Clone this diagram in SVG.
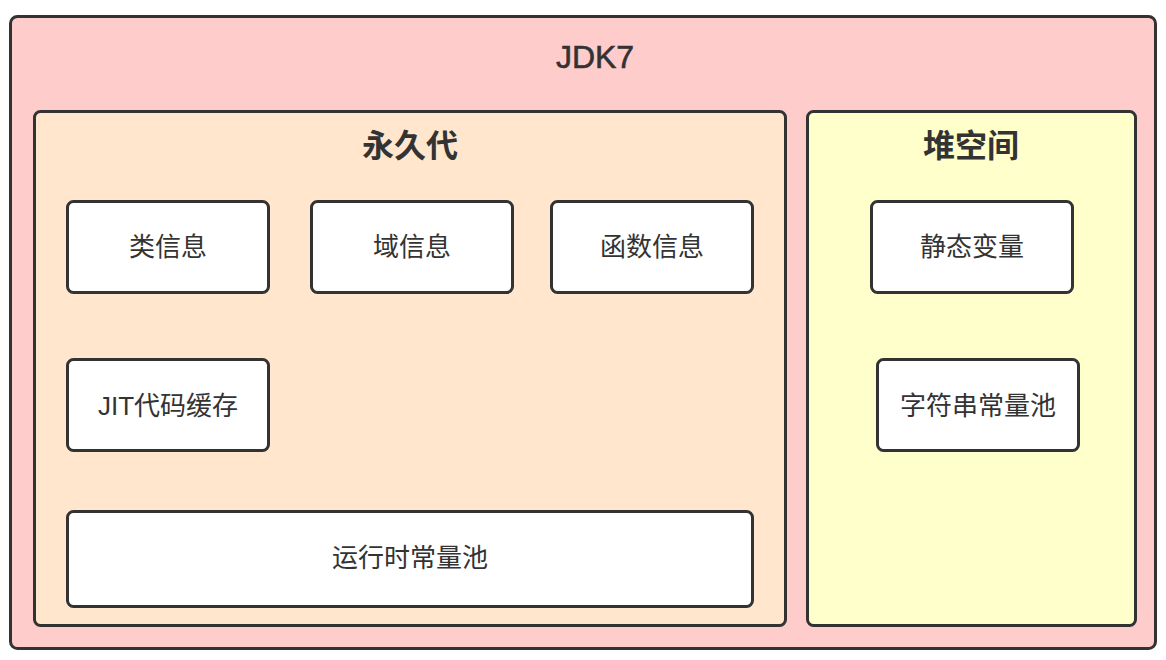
<svg xmlns="http://www.w3.org/2000/svg" width="1166" height="660" viewBox="0 0 1166 660">
<style>
.box{stroke:#333333;stroke-width:3}
.node{fill:#ffffff;stroke:#333333;stroke-width:3}
.t{font-family:"Liberation Sans","Noto Sans CJK SC",sans-serif;fill:#333333;text-anchor:middle;dominant-baseline:central}
.n{font-size:26px}
.h{font-size:32px;font-weight:bold}
</style>
<rect width="1166" height="660" fill="#ffffff"/>
<g id="jdk7">
<rect class="box" x="10.5" y="16.5" width="1145" height="632" rx="7" fill="#ffcccc"/>
<text class="t" x="595" y="57" style="font-size:32px;stroke:#333333;stroke-width:0.6">JDK7</text>
</g>
<g id="permgen">
<rect class="box" x="34.5" y="111.5" width="751" height="514" rx="6" fill="#ffe6cc"/>
<text class="t h" x="410" y="146">永久代</text>
</g>
<g id="heap">
<rect class="box" x="807.5" y="111.5" width="328" height="514" rx="6" fill="#ffffcc"/>
<text class="t h" x="971" y="146">堆空间</text>
</g>
<g id="classinfo">
<rect class="node" x="67.5" y="201.5" width="201" height="91" rx="6"/>
<text class="t n" x="168" y="247">类信息</text>
</g>
<g id="fieldinfo">
<rect class="node" x="311.5" y="201.5" width="201" height="91" rx="6"/>
<text class="t n" x="412" y="247">域信息</text>
</g>
<g id="methodinfo">
<rect class="node" x="551.5" y="201.5" width="201" height="91" rx="6"/>
<text class="t n" x="652" y="247">函数信息</text>
</g>
<g id="jit">
<rect class="node" x="67.5" y="359.5" width="201" height="91" rx="6"/>
<text class="t n" x="168" y="406">JIT代码缓存</text>
</g>
<g id="runtimepool">
<rect class="node" x="67.5" y="511.5" width="685" height="95" rx="6"/>
<text class="t n" x="410" y="558">运行时常量池</text>
</g>
<g id="staticvar">
<rect class="node" x="871.5" y="201.5" width="201" height="91" rx="6"/>
<text class="t n" x="972" y="247">静态变量</text>
</g>
<g id="stringpool">
<rect class="node" x="877.5" y="359.5" width="201" height="91" rx="6"/>
<text class="t n" x="978" y="406">字符串常量池</text>
</g>
<g id="connectors"></g>
</svg>
